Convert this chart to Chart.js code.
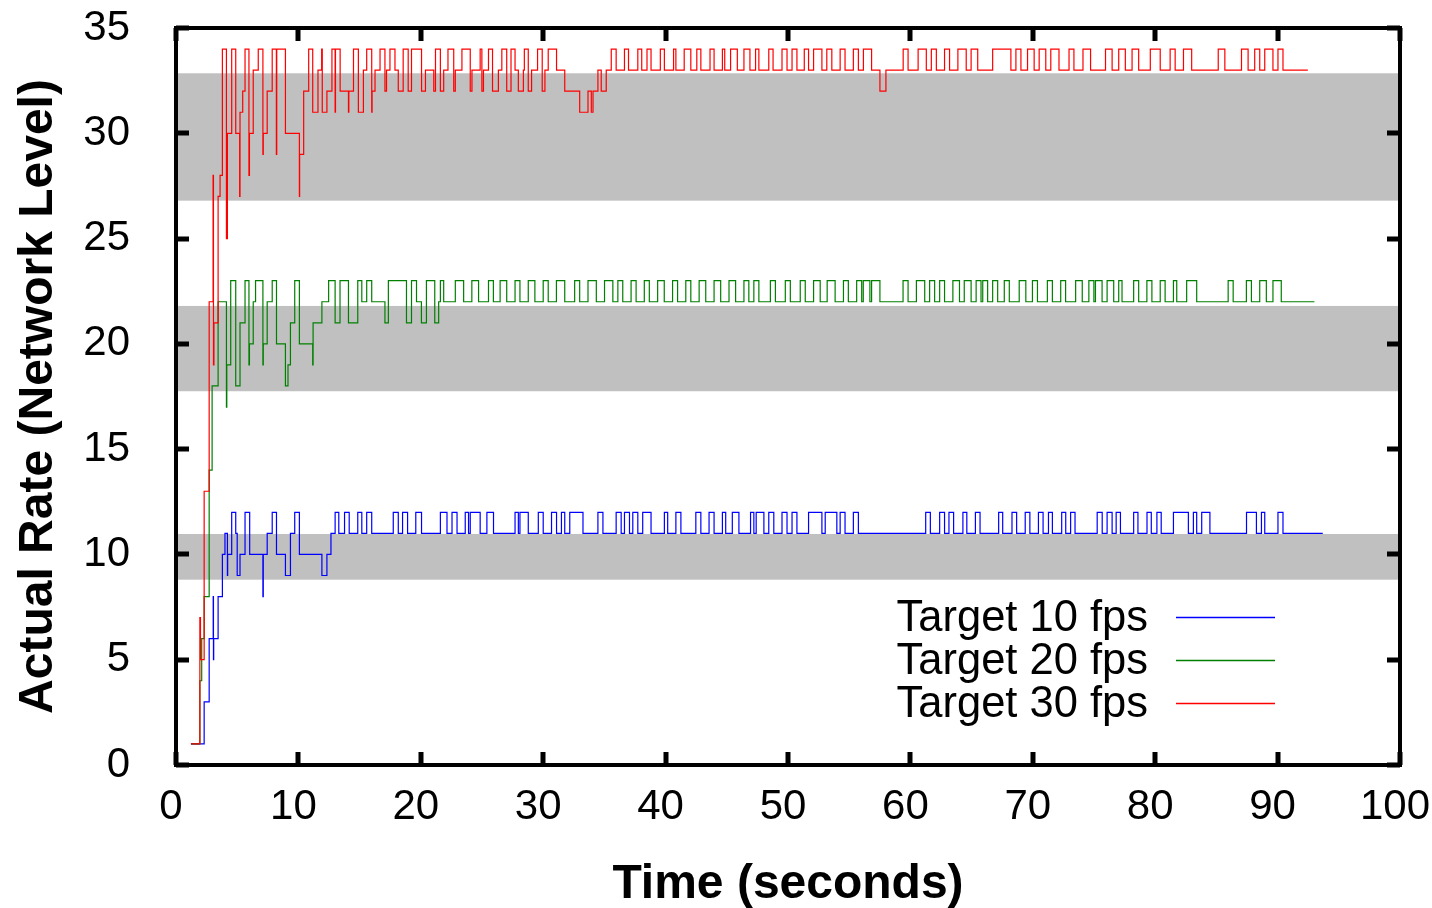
<!DOCTYPE html>
<html><head><meta charset="utf-8">
<script src="https://cdn.jsdelivr.net/npm/chart.js@4/dist/chart.umd.min.js"></script>
<style>html,body{margin:0;padding:0;background:#fff;overflow:hidden}#wrap{width:1432px;height:908px}</style>
</head><body><div id="wrap"><canvas id="c" width="1432" height="908"></canvas></div>
<script>
const xTicks = [0,10,20,30,40,50,60,70,80,90,100];
const yTicks = [0,5,10,15,20,25,30,35];
const xTitle = 'Time (seconds)';
const yTitle = 'Actual Rate (Network Level)';
const bandLow  = [8.8, 17.75, 26.8];
const bandHigh = [10.97, 21.8, 32.85];
const seriesLabels = ['Target 10 fps','Target 20 fps','Target 30 fps'];
const seriesColors = ['#0000ff','#008000','#ff0000'];

// [time (s), rate] — value holds from this time until the next entry
const blueSteps = [[1.22,1],[2.3,3],[2.71,6],[3.04,8],[3.06,5],[3.08,6],[3.44,8],[3.79,10],[4.0,11],[4.2,9],[4.22,10],[4.55,12],[4.88,11],[5.0,9],[5.23,10],[5.64,12],[6.02,10],[7.1,8],[7.13,10],[7.45,11],[7.86,12],[8.21,10],[8.94,9],[9.35,11],[9.7,12],[10.08,10],[11.92,9],[12.33,10],[12.66,11],[13.0,12],[13.3,11],[13.77,12],[14.15,11],[14.85,12],[15.18,11],[15.58,12],[15.99,11],[17.75,12],[18.16,11],[18.51,12],[18.92,11],[19.59,12],[20.06,11],[21.6,12],[22.14,11],[22.55,12],[22.96,11],[23.63,12],[23.9,11],[24.04,12],[24.85,11],[25.4,12],[25.94,11],[27.7,12],[27.97,11],[28.1,12],[28.78,11],[29.6,12],[30.0,11],[30.68,12],[31.09,11],[31.49,12],[31.76,11],[32.17,12],[33.25,11],[34.47,12],[34.88,11],[35.96,12],[36.37,11],[36.64,12],[37.05,11],[37.32,12],[37.73,11],[38.13,12],[38.81,11],[39.9,12],[40.17,11],[40.84,12],[41.25,11],[42.47,12],[42.88,11],[43.55,12],[43.96,11],[44.64,12],[44.91,11],[45.45,12],[45.99,11],[46.94,12],[47.21,11],[47.4,12],[48.03,11],[48.43,12],[48.84,11],[49.51,12],[49.92,11],[50.33,12],[50.73,11],[51.68,12],[52.77,11],[53.04,12],[53.99,11],[54.26,12],[54.66,11],[55.34,12],[55.75,11],[61.25,12],[61.63,11],[62.39,12],[62.79,11],[63.15,12],[63.53,11],[64.29,12],[64.61,11],[65.31,12],[65.69,11],[67.21,12],[67.54,11],[68.3,12],[68.68,11],[69.38,12],[69.76,11],[70.46,12],[70.84,11],[71.28,12],[71.6,11],[72.36,12],[72.69,11],[73.09,12],[73.45,11],[75.26,12],[75.67,11],[76.07,12],[76.48,11],[76.81,12],[77.16,11],[78.24,12],[78.59,11],[79.33,12],[79.68,11],[80.14,12],[80.49,11],[81.49,12],[82.71,11],[83.12,12],[83.39,11],[83.8,12],[84.47,11],[87.46,12],[88.27,11],[88.68,12],[88.95,11],[90.03,12],[90.44,11],[93.69,11]];

const greenSteps = [[1.22,1],[1.95,4],[2.1,6],[2.3,8],[2.71,14],[2.95,18],[3.44,22],[4.12,17],[4.15,19],[4.47,23],[4.88,18],[5.23,21],[5.64,23],[5.96,19],[6.0,20],[6.31,22],[6.5,23],[7.1,19],[7.13,20],[7.45,22],[7.86,23],[8.21,20],[8.94,18],[9.15,19],[9.35,21],[9.7,23],[10.08,20],[11.17,19],[11.2,21],[11.92,22],[12.47,23],[13.0,21],[13.4,23],[14.09,21],[14.85,23],[15.18,22],[15.58,23],[15.99,22],[17.07,21],[17.35,23],[18.83,21],[19.24,23],[19.65,22],[20.05,21],[20.46,23],[21.14,21],[21.46,22],[21.6,23],[21.87,22],[22.82,23],[23.5,22],[24.17,23],[24.72,22],[25.53,23],[25.93,22],[26.48,23],[27.02,22],[27.7,23],[28.1,22],[28.78,23],[29.32,22],[30.0,23],[30.41,22],[31.08,23],[31.76,22],[32.57,23],[32.98,22],[33.66,23],[34.34,22],[35.01,23],[35.69,22],[36.1,23],[36.5,22],[37.18,23],[37.59,22],[38.26,23],[38.67,22],[39.35,23],[39.89,22],[40.57,23],[40.98,22],[41.65,23],[42.06,22],[42.74,23],[43.28,22],[43.96,23],[44.5,22],[45.18,23],[45.72,22],[46.4,23],[46.8,22],[47.21,23],[47.62,22],[48.56,23],[48.97,22],[49.78,23],[50.19,22],[51.0,23],[51.41,22],[52.09,23],[52.63,22],[53.2,23],[53.85,22],[54.53,23],[54.93,22],[55.61,23],[56.02,22],[56.15,23],[56.69,22],[56.83,23],[57.51,22],[59.4,23],[59.81,22],[60.49,23],[61.17,22],[61.57,23],[61.98,22],[62.39,23],[62.79,22],[63.47,23],[64.01,22],[64.4,23],[64.96,22],[65.37,23],[65.77,22],[65.91,23],[66.31,22],[66.72,23],[67.13,22],[67.67,23],[68.08,22],[68.89,23],[69.43,22],[69.97,23],[70.38,22],[71.19,23],[71.6,22],[72.28,23],[72.68,22],[73.5,23],[74.04,22],[74.58,23],[74.99,22],[75.12,23],[75.66,22],[76.07,23],[76.61,22],[77.02,23],[77.29,22],[78.24,23],[78.65,22],[79.32,23],[79.73,22],[80.41,23],[80.81,22],[81.49,23],[81.76,22],[82.57,23],[83.39,22],[85.96,23],[86.37,22],[87.45,23],[87.86,22],[88.54,23],[89.08,22],[89.62,23],[90.3,22],[93.01,22]];

const redSteps = [[1.22,1],[1.95,7],[2.0,5],[2.3,13],[2.71,22],[3.03,28],[3.06,19],[3.1,21],[3.44,27],[3.6,28],[3.79,34],[4.12,25],[4.2,30],[4.55,34],[4.88,30],[5.2,27],[5.23,31],[5.45,32],[5.64,34],[5.96,28],[6.0,30],[6.31,33],[6.72,34],[7.1,29],[7.13,30],[7.45,32],[7.86,34],[8.2,29],[8.23,34],[8.94,30],[10.08,27],[10.1,29],[10.43,32],[10.84,34],[11.17,31],[11.6,33],[11.9,34],[11.95,31],[12.33,32],[12.74,34],[13.0,31],[13.03,34],[13.41,32],[14.09,31],[14.12,32],[14.5,34],[14.9,31],[15.31,33],[15.58,34],[15.99,31],[16.02,32],[16.26,33],[16.67,34],[17.07,32],[17.2,33],[17.48,34],[17.89,33],[18.16,32],[18.56,34],[18.97,32],[19.24,34],[20.06,32],[20.38,33],[21.06,32],[21.2,34],[21.6,32],[21.87,33],[22.22,34],[22.69,32],[22.82,33],[23.36,34],[24.04,32],[24.18,33],[24.85,34],[24.99,32],[25.12,33],[25.53,34],[25.86,32],[26.34,33],[26.62,34],[27.02,32],[27.37,34],[27.7,33],[27.97,32],[28.38,33],[28.46,34],[28.78,32],[29.05,33],[29.54,34],[29.92,32],[30.14,33],[30.41,34],[31.09,33],[31.76,32],[32.98,31],[33.66,32],[33.93,31],[34.07,32],[34.47,33],[34.74,32],[35.15,33],[35.56,34],[35.96,33],[36.64,34],[36.97,33],[37.73,34],[38.05,33],[38.48,34],[38.81,33],[39.57,34],[39.9,33],[40.65,34],[40.84,33],[41.52,34],[42.06,33],[42.55,34],[42.88,33],[43.63,34],[43.96,33],[44.64,34],[44.83,33],[45.31,34],[45.86,33],[46.4,34],[46.89,33],[47.35,34],[47.62,33],[48.43,34],[48.78,33],[49.51,34],[49.92,33],[50.33,34],[50.73,33],[51.33,34],[51.68,33],[52.09,34],[52.77,33],[53.17,34],[53.58,33],[54.26,34],[54.66,33],[55.34,34],[55.75,33],[56.16,34],[56.83,33],[57.51,32],[58.0,33],[59.41,34],[59.81,33],[60.63,34],[61.3,33],[61.71,34],[62.12,33],[62.79,34],[63.2,33],[63.88,34],[64.56,33],[64.96,34],[65.5,33],[66.72,34],[68.21,33],[68.62,34],[69.03,33],[69.57,34],[70.11,33],[70.52,34],[71.06,33],[71.47,34],[72.14,33],[72.96,34],[73.36,33],[74.1,34],[74.72,33],[75.94,34],[76.48,33],[77.02,34],[77.56,33],[78.11,34],[78.65,33],[79.6,34],[80.41,33],[81.22,34],[81.63,33],[82.31,34],[82.98,33],[85.15,34],[85.69,33],[87.05,34],[87.59,33],[88.13,34],[88.54,33],[88.95,34],[89.62,33],[90.03,34],[90.44,33],[92.47,33]];

const FONT = '"Liberation Sans", Arial, Helvetica, sans-serif';
const seriesSteps = [blueSteps, greenSteps, redSteps];

const bandsPlugin = {
  id: 'bands',
  beforeDatasetsDraw(chart) {
    const {ctx, chartArea: a, scales: {y}} = chart;
    ctx.save();
    ctx.fillStyle = '#c0c0c0';
    for (let i = 0; i < bandLow.length; i++) {
      const top = y.getPixelForValue(bandHigh[i]);
      const bot = y.getPixelForValue(bandLow[i]);
      ctx.fillRect(a.left, top, a.right - a.left, bot - top);
    }
    ctx.restore();
  }
};

const framePlugin = {
  id: 'frame',
  afterDatasetsDraw(chart) {
    const {ctx, chartArea: a, scales: {x, y}} = chart;
    ctx.save();
    ctx.strokeStyle = '#000';
    ctx.lineWidth = 5;
    ctx.lineCap = 'butt';
    const tl = 13;
    for (const v of yTicks) {
      const py = Math.round(y.getPixelForValue(v));
      ctx.beginPath();
      ctx.moveTo(a.left, py); ctx.lineTo(a.left + tl, py);
      ctx.moveTo(a.right, py); ctx.lineTo(a.right - tl, py);
      ctx.stroke();
    }
    for (const v of xTicks) {
      const px = Math.round(x.getPixelForValue(v));
      ctx.beginPath();
      ctx.moveTo(px, a.bottom); ctx.lineTo(px, a.bottom - tl);
      ctx.moveTo(px, a.top); ctx.lineTo(px, a.top + tl);
      ctx.stroke();
    }
    ctx.lineWidth = 4;
    ctx.strokeRect(a.left, a.top, a.right - a.left, a.bottom - a.top);
    ctx.restore();
  }
};

const legendPlugin = {
  id: 'customLegend',
  afterDraw(chart) {
    const {ctx} = chart;
    ctx.save();
    ctx.font = '43.5px ' + FONT;
    ctx.textAlign = 'right';
    ctx.textBaseline = 'alphabetic';
    seriesLabels.forEach((label, i) => {
      const ly = 617 + 43 * i;
      ctx.fillStyle = '#000';
      ctx.fillText(label, 1148, ly + 14);
      ctx.strokeStyle = seriesColors[i];
      ctx.lineWidth = 1.3;
      ctx.beginPath();
      ctx.moveTo(1176, ly + 0.5); ctx.lineTo(1275, ly + 0.5);
      ctx.stroke();
    });
    ctx.restore();
  }
};

new Chart(document.getElementById('c'), {
  type: 'line',
  data: {
    datasets: seriesSteps.map((steps, i) => ({
      label: seriesLabels[i],
      data: steps.map(p => ({x: p[0], y: p[1]})),
      borderColor: seriesColors[i],
      borderWidth: 1.2,
      pointRadius: 0,
      fill: false,
      stepped: 'before',
      order: 3 - i
    }))
  },
  options: {
    responsive: false,
    animation: false,
    devicePixelRatio: 1,
    layout: {padding: {top: 28, right: 32, left: 0, bottom: 0}},
    plugins: {legend: {display: false}, tooltip: {enabled: false}},
    scales: {
      x: {
        type: 'linear', min: 0, max: 100,
        afterBuildTicks: s => { s.ticks = xTicks.map(v => ({value: v})); },
        afterFit: s => { s.height = 143; s.paddingLeft = 0; s.paddingRight = 0; },
        grid: {display: false, drawTicks: false},
        border: {display: false},
        ticks: {color: '#000', font: {family: FONT, size: 42}, padding: 17, maxRotation: 0, autoSkip: false, labelOffset: -5},
        title: {display: true, text: xTitle, color: '#000', font: {family: FONT, size: 48, weight: 'bold', lineHeight: 1.1}, padding: {top: 0, bottom: -3}}
      },
      y: {
        type: 'linear', min: 0, max: 35,
        afterBuildTicks: s => { s.ticks = yTicks.map(v => ({value: v})); },
        afterFit: s => { s.width = 176; s.paddingTop = 0; s.paddingBottom = 0; },
        grid: {display: false, drawTicks: false},
        border: {display: false},
        ticks: {color: '#000', font: {family: FONT, size: 42}, padding: 46},
        title: {display: true, text: yTitle, color: '#000', font: {family: FONT, size: 48, weight: 'bold', lineHeight: 1.1}, padding: {top: 12, bottom: 0}}
      }
    }
  },
  plugins: [bandsPlugin, framePlugin, legendPlugin]
});
</script></body></html>
